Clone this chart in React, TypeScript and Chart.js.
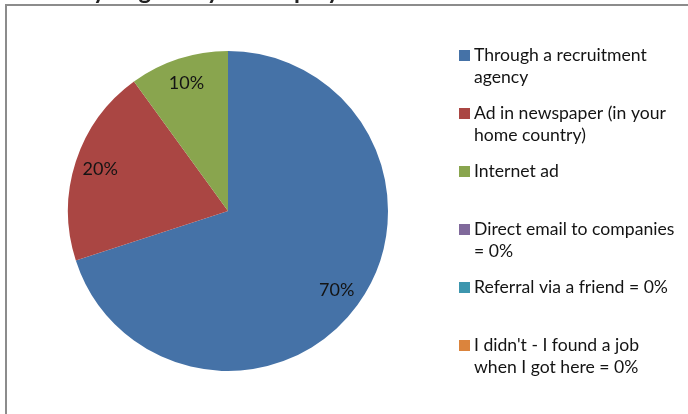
import React, { useEffect, useRef } from "react";
import { Chart, registerables } from "chart.js";

Chart.register(...registerables);

const titleText = "How did you get to your employer?";
const categories: string[][] = [
  ["Through a recruitment", "agency"],
  ["Ad in newspaper (in your", "home country)"],
  ["Internet ad"],
  ["Direct email to companies", "= 0%"],
  ["Referral via a friend = 0%"],
  ["I didn't - I found a job", "when I got here = 0%"],
];
const shares: number[] = [70, 20, 10, 0, 0, 0];
const sliceColors: string[] = ["#4572A7", "#AA4643", "#89A54E", "#80699B", "#3D96AE", "#DB843D"];

const FONT = "Lato, 'Open Sans', sans-serif";

const framePlugin = {
  id: "frame",
  beforeDraw(chart: any) {
    const ctx = chart.ctx;
    ctx.save();
    ctx.fillStyle = "#ffffff";
    ctx.fillRect(0, 0, chart.width, chart.height);
    ctx.strokeStyle = "#8c8c8c";
    ctx.lineWidth = 2;
    ctx.beginPath();
    ctx.moveTo(6, chart.height + 2);
    ctx.lineTo(6, 5);
    ctx.lineTo(chart.width + 2, 5);
    ctx.stroke();
    // cut-off title (only descenders visible)
    ctx.fillStyle = "#222";
    ctx.font = `bold 24px ${FONT}`;
    ctx.textBaseline = "alphabetic";
    ctx.textAlign = "left";
    const pre = ctx.measureText("How did ").width;
    ctx.fillText(titleText, 93 - pre, -1);
    ctx.restore();
  },
};

const labelPlugin = {
  id: "sliceLabels",
  afterDatasetsDraw(chart: any) {
    const ctx = chart.ctx;
    const meta = chart.getDatasetMeta(0);
    const data = chart.data.datasets[0].data as number[];
    ctx.save();
    ctx.font = `18px ${FONT}`;
    ctx.fillStyle = "#141414";
    ctx.textAlign = "center";
    ctx.textBaseline = "middle";
    meta.data.forEach((arc: any, i: number) => {
      if (!data[i]) return;
      const { x, y, startAngle, endAngle, outerRadius } = arc.getProps(
        ["x", "y", "startAngle", "endAngle", "outerRadius"],
        true
      );
      const mid = (startAngle + endAngle) / 2;
      const r = outerRadius * 0.84;
      ctx.fillText(`${data[i]}%`, x + Math.cos(mid) * r, y + Math.sin(mid) * r);
    });
    ctx.restore();
  },
};

const legendPlugin = {
  id: "sideLegend",
  afterDraw(chart: any) {
    const ctx = chart.ctx;
    const labels = chart.data.labels as string[][];
    const colors = chart.data.datasets[0].backgroundColor as string[];
    ctx.save();
    ctx.font = `17.6px ${FONT}`;
    ctx.textAlign = "left";
    ctx.textBaseline = "middle";
    labels.forEach((lines, i) => {
      const y0 = 55 + 58 * i;
      ctx.fillStyle = colors[i];
      ctx.fillRect(459, y0 - 5, 11, 11);
      ctx.fillStyle = "#141414";
      lines.forEach((ln, j) => ctx.fillText(ln, 474, y0 + 22 * j));
    });
    ctx.restore();
  },
};

export default function App() {
  const ref = useRef<HTMLCanvasElement>(null);
  useEffect(() => {
    if (!ref.current) return;
    const chart = new Chart(ref.current, {
      type: "pie",
      data: {
        labels: categories,
        datasets: [
          {
            data: shares,
            backgroundColor: sliceColors,
            borderWidth: 0,
            hoverOffset: 0,
          },
        ],
      },
      options: {
        responsive: false,
        animation: false,
        layout: { padding: { left: 68, top: 51, right: 300, bottom: 43 } },
        plugins: {
          legend: { display: false },
          title: { display: false },
          tooltip: { enabled: false },
        },
      },
      plugins: [framePlugin, labelPlugin, legendPlugin],
    });
    return () => chart.destroy();
  }, []);
  return (
    <div style={{ position: "fixed", left: 0, top: 0, width: 688, height: 414, background: "#fff" }}>
      <canvas ref={ref} width={688} height={414} style={{ display: "block" }} />
    </div>
  );
}
